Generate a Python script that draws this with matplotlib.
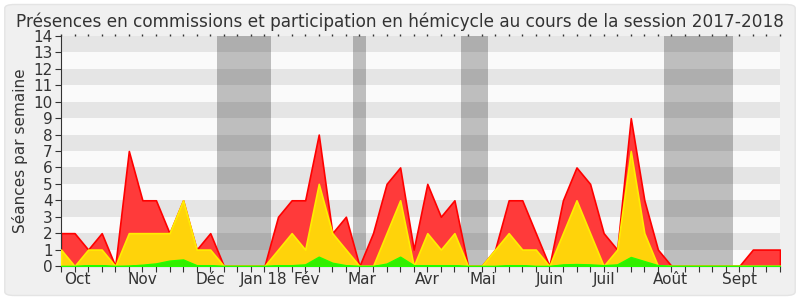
import matplotlib
matplotlib.use('Agg')
import matplotlib.pyplot as plt
from matplotlib.patches import FancyBboxPatch

# weekly values, Oct 2017 -> Sept 2018
total = [2, 2, 1, 2, 0, 7, 4, 4, 2, 4, 1, 2, 0, 0, 0, 0, 3, 4, 4, 8,
         2, 3, 0, 2, 5, 6, 1, 5, 3, 4, 0, 0, 1, 4, 4, 2, 0, 4, 6, 5,
         2, 1, 9, 4, 1, 0, 0, 0, 0, 0, 0, 1, 1, 1]
commission = [1, 0, 1, 1, 0, 2, 2, 2, 2, 4, 1, 1, 0, 0, 0, 0, 1, 2, 1, 5,
              2, 1, 0, 0, 2, 4, 0, 2, 1, 2, 0, 0, 1, 2, 1, 1, 0, 2, 4, 2,
              0, 1, 7, 2, 0, 0, 0, 0, 0, 0, 0, 0, 0, 0]
hemicycle = [0, 0, 0.05, 0.05, 0, 0.02, 0.08, 0.16, 0.33, 0.4, 0.05, 0.05, 0, 0, 0, 0, 0.05, 0.05, 0.1, 0.57,
             0.2, 0.05, 0, 0, 0.15, 0.57, 0.05, 0.05, 0.05, 0.05, 0, 0, 0, 0.05, 0.05, 0, 0, 0.1, 0.12, 0.1,
             0.05, 0.1, 0.55, 0.3, 0.05, 0, 0, 0, 0, 0, 0, 0, 0, 0]
weeks = list(range(len(total)))

vacances = [(11.5, 15.5), (21.5, 22.5), (29.5, 31.5), (44.45, 49.5)]

mois = ['Oct', 'Nov', 'Déc', 'Jan 18', 'Fév', 'Mar', 'Avr', 'Mai', 'Juin', 'Juil', 'Août', 'Sept']
mois_pos = [1.2, 6.0, 11.0, 14.9, 18.1, 22.2, 27.0, 31.1, 36.0, 40.0, 44.9, 50.0]

fig = plt.figure(figsize=(8, 3), dpi=100)
fig.patch.set_facecolor('white')
fig.patches.append(FancyBboxPatch((0.006, 0.015), 0.988, 0.97, boxstyle='round,pad=0,rounding_size=0.012',
                                  transform=fig.transFigure, facecolor='#f0f0f0', edgecolor='#e4e4e4',
                                  linewidth=1, zorder=-10))
ax = fig.add_axes([0.07625, 0.1133, 0.89875, 0.7667])
ax.set_facecolor('#fafafa')

# alternate background rows
for k in range(1, 14, 2):
    ax.axhspan(k, k + 1, color='#e5e5e5', zorder=0, lw=0)

# holidays
for a, b in vacances:
    ax.axvspan(a, b, color='black', alpha=0.24, zorder=1, lw=0)

ax.fill_between(weeks, total, color='#ff3a3a', edgecolor='#ff0000', linewidth=1.2, zorder=2)
ax.fill_between(weeks, commission, color='#ffd30a', edgecolor='#ffee00', linewidth=1.2, zorder=3)
ax.fill_between(weeks, hemicycle, color='#33ee00', edgecolor='#22ff00', linewidth=1, zorder=4)

ax.set_xlim(0, len(total) - 1)
ax.set_ylim(0, 14)
ax.set_yticks(range(0, 15))
ax.tick_params(axis='y', labelsize=11, length=4, colors='#333333', pad=2)
ax.set_ylabel('Séances par semaine', fontsize=11, color='#333333', labelpad=4)

ax.set_xticks(weeks)
ax.set_xticklabels([])
ax.tick_params(axis='x', length=4, colors='#333333')

# small dots on top
top = ax.secondary_xaxis('top')
top.set_xticks(weeks)
top.set_xticklabels([])
top.tick_params(length=1.5, width=1, colors='#333333')
top.spines['top'].set_visible(False)

# month names
for m, p in zip(mois, mois_pos):
    ax.text(p, -0.35, m, ha='center', va='top', fontsize=11, color='#333333')

for s in ['top', 'right']:
    ax.spines[s].set_visible(False)
ax.spines['left'].set_color('#333333')
ax.spines['bottom'].set_color('#333333')

fig.text(0.5, 0.91, 'Présences en commissions et participation en hémicycle au cours de la session 2017-2018',
         ha='center', va='baseline', fontsize=12.2, color='#333333')

plt.savefig('out.png', dpi=100, facecolor=fig.get_facecolor())
